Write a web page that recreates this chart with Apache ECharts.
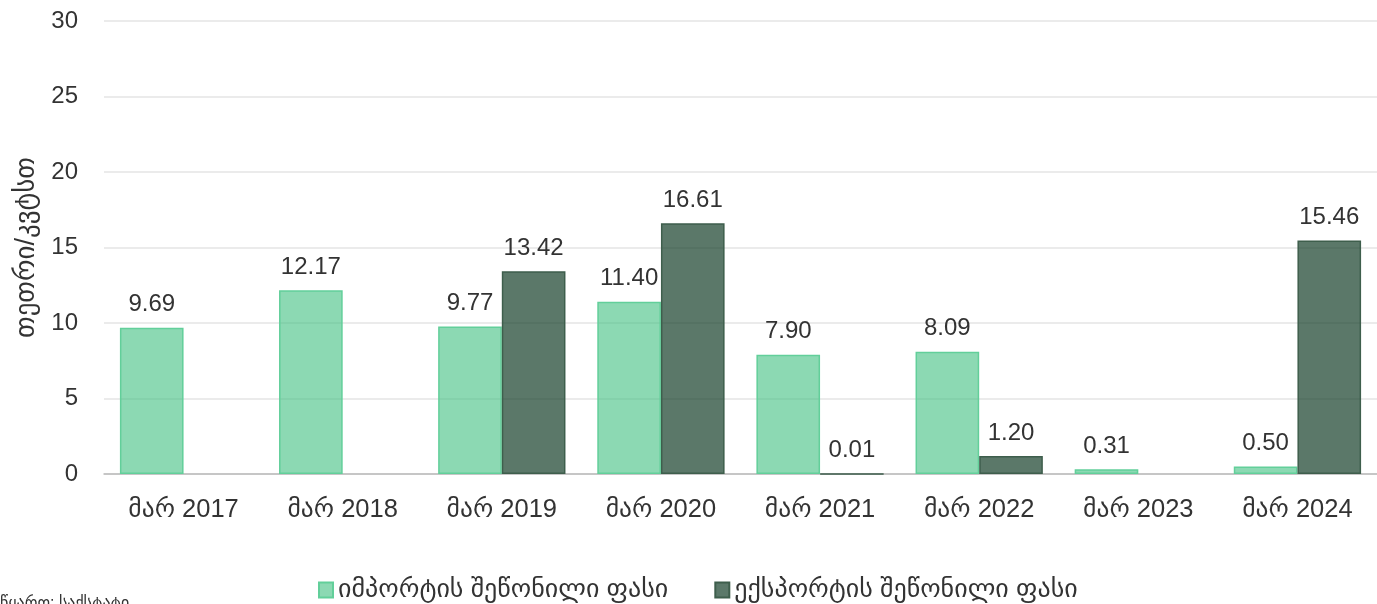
<!DOCTYPE html>
<html>
<head>
<meta charset="utf-8">
<title>შეწონილი ფასი</title>
<script src="https://cdn.jsdelivr.net/npm/echarts@6/dist/echarts.min.js"></script>
<style>
  html, body { margin: 0; padding: 0; background: #ffffff; }
  #chart { width: 1377px; height: 604px; }
</style>
</head>
<body>
<div id="chart"></div>
<script>
// Periods (March of each year)
const categories = ['მარ 2017', 'მარ 2018', 'მარ 2019', 'მარ 2020', 'მარ 2021', 'მარ 2022', 'მარ 2023', 'მარ 2024'];
// Weighted import price, tetri per kWh
const importPrice = [9.69, 12.17, 9.77, 11.40, 7.90, 8.09, 0.31, 0.50];
// Weighted export price, tetri per kWh (no exports in some periods)
const exportPrice = [null, null, 13.42, 16.61, 0.01, 1.20, null, 15.46];
const seriesNames = ['იმპორტის შეწონილი ფასი', 'ექსპორტის შეწონილი ფასი'];
const yAxisName = 'თეთრი/კვტსთ';
const sourceNote = 'წყარო: საქსტატი';

const FONT = '"Liberation Sans", Arial, "DejaVu Sans", sans-serif';
const chart = echarts.init(document.getElementById('chart'), null, { renderer: 'canvas' });

const valueLabel = {
  show: true,
  position: 'top',
  distance: 11,
  color: '#333333',
  fontSize: 24,
  fontFamily: FONT,
  formatter: p => (p.value == null ? '' : Number(p.value).toFixed(2))
};

chart.setOption({
  animation: false,
  textStyle: { fontFamily: FONT },
  grid: { left: 104, width: 1280, top: 21, height: 453 },
  legend: {
    data: seriesNames,
    left: 313,
    top: 572,
    itemWidth: 14,
    itemHeight: 15,
    itemGap: 46,
    icon: 'rect',
    textStyle: { fontSize: 26, color: '#333333', fontFamily: FONT, padding: [0, 0, 0, 0] }
  },
  xAxis: {
    type: 'category',
    data: categories,
    axisTick: { show: false },
    axisLine: { lineStyle: { color: '#bbbbbb', width: 1.5 } },
    axisLabel: { fontSize: 25.5, color: '#333333', margin: 23, fontFamily: FONT }
  },
  yAxis: {
    type: 'value',
    min: 0,
    max: 30,
    interval: 5,
    name: yAxisName,
    nameLocation: 'middle',
    nameGap: 64,
    nameTextStyle: { fontSize: 27, color: '#333333', fontFamily: FONT },
    axisLine: { show: false },
    axisTick: { show: false },
    axisLabel: { fontSize: 24, color: '#333333', margin: 26, fontFamily: FONT },
    splitLine: { lineStyle: { color: '#e4e4e4', width: 1.5 } }
  },
  series: [
    {
      name: seriesNames[0],
      type: 'bar',
      data: importPrice,
      barGap: '0%',
      barCategoryGap: '20%',
      itemStyle: { color: 'rgba(64,192,128,0.6)', borderColor: '#62cf9a', borderWidth: 1.5 },
      label: valueLabel
    },
    {
      name: seriesNames[1],
      type: 'bar',
      data: exportPrice,
      itemStyle: { color: 'rgba(30,70,50,0.73)', borderColor: '#3e5e4c', borderWidth: 1.5 },
      label: valueLabel
    }
  ],
  graphic: [
    {
      type: 'text',
      left: 0,
      top: 596,
      style: { text: sourceNote, fontSize: 16, fill: '#333333', fontFamily: FONT }
    }
  ]
});
</script>
</body>
</html>
